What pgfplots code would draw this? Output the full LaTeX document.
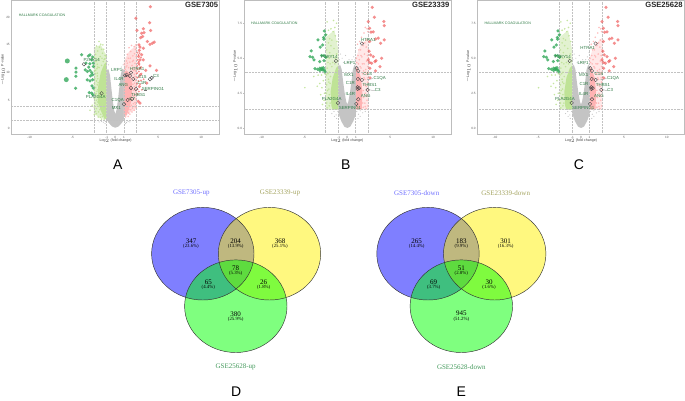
\documentclass[border=0pt]{standalone}
\usepackage{pgfplots}
\usepackage{pgfplotstable}
\pgfplotsset{compat=1.18}
\usepackage{fontspec}
\setmainfont{Liberation Sans}
\newfontfamily\vennfont{Liberation Serif}
\definecolor{framegray}{HTML}{BDBDBD}
\definecolor{dashgray}{HTML}{C2C2C2}
\definecolor{volgray}{HTML}{C4C4C4}
\definecolor{pinkp}{HTML}{FFB3B3}
\definecolor{lgreen}{HTML}{BFE396}
\definecolor{dgreen}{HTML}{33A85A}
\definecolor{redp}{HTML}{EE4B4B}
\definecolor{genegreen}{HTML}{2F7A45}
\definecolor{vblue}{HTML}{6E6EFF}
\definecolor{volive}{HTML}{A3A35F}
\definecolor{vgreen}{HTML}{449A5C}
\newcommand{\tinyf}{\fontsize{3.1}{3.4}\selectfont}
\newcommand{\genef}{\fontsize{4.4}{4.8}\selectfont}
% ---------- panel A ----------
\pgfplotstableread[row sep=\\]{x y\\
0 0.05\\ 0.4 0.3\\ 0.8 1.0\\ 1 1.6\\ 1 10.5\\ 0.8 10.7\\ 0.62 9.5\\ 0.48 7.5\\ 0.32 5.2\\ 0.15 3.3\\ 0 2.5\\ -0.15 3.3\\ -0.32 5.2\\ -0.48 7.5\\ -0.62 9.5\\ -0.8 10.6\\ -1 10.5\\ -1 1.6\\ -0.8 1.0\\ -0.4 0.3\\
}\grayA
\pgfplotstableread[row sep=\\]{x y\\
1 2.0\\ 1 10.0\\ 1.3 10.4\\ 1.7 9.8\\ 1.95 8.0\\ 1.9 5.0\\ 1.6 3.4\\ 1.3 2.4\\
}\pinkareaA
\pgfplotstableread[row sep=\\]{x y\\
-1 1.5\\ -1 12.0\\ -1.3 11.5\\ -1.7 10.0\\ -2.0 7.5\\ -2.0 4.5\\ -1.6 2.8\\ -1.3 1.8\\
}\greenareaA
\pgfplotstableread[row sep=\\]{x y\\
1 2\\ 1 12\\ 1.6 13.8\\ 2.5 15\\ 2.5 3.5\\ 1.6 2.7\\
}\pinkouterA
\pgfplotstableread[row sep=\\]{x y\\
-1 1.5\\ -1 13\\ -1.7 15\\ -2.5 14.5\\ -2.5 2.5\\ -1.6 1.8\\
}\greenouterA
\pgfplotstableread[row sep=\\]{x y\\
1.1 1.2\\ 1.3 1.0\\ 1.5 1.2\\ 1.7 1.1\\ -1.15 1.2\\ -1.4 1.05\\ -1.6 1.2\\ -1.9 1.1\\ 0.9 11.4\\ 0.7 11\\ -0.8 11.4\\ -0.9 12\\ 1.2 0.8\\ -1.2 0.8\\
}\grayptsA
\pgfplotstableread[row sep=\\]{x y\\
1.1 3.2\\ 1.2 5.1\\ 1.3 12.1\\ 1.4 13.3\\ 1.5 12.6\\ 1.6 14.5\\ 1.8 13.8\\ 1.9 14.9\\ 2.05 13.0\\ 2.2 14.7\\ 2.35 14.2\\ 2.1 12.2\\ 1.7 11.9\\ 1.35 11.2\\ 1.15 10.6\\ 1.55 10.9\\ 1.95 11.3\\ 2.3 11.7\\ 2.45 12.9\\ 2.4 10.8\\ 2.15 10.4\\ 1.85 10.2\\ 2.45 9.9\\ 2.3 9.3\\ 2.1 9.0\\ 2.4 8.6\\ 2.25 8.1\\ 2.45 7.7\\ 2.05 7.9\\ 1.95 8.5\\ 2.35 7.1\\ 2.15 6.8\\ 2.45 6.3\\ 2.3 5.9\\ 2.05 6.2\\ 1.95 6.9\\ 2.4 5.2\\ 2.2 5.4\\ 2.0 5.1\\ 1.85 5.7\\ 2.3 4.6\\ 2.1 4.4\\ 1.9 4.1\\ 1.75 3.9\\ 1.6 3.4\\ 1.45 2.9\\ 1.3 2.4\\ 1.2 2.0\\ 1.55 2.7\\ 1.8 3.3\\ 2.0 3.6\\ 2.25 3.9\\ 1.7 4.6\\ 1.4 11.7\\ 1.75 12.6\\ 2.0 12.0\\ 2.25 13.4\\ 2.4 15.0\\ 1.25 11.0\\ 1.05 11.5\\ 2.0 10.7\\ 2.35 10.3\\ 2.2 9.7\\ 2.5 9.1\\ 2.2 7.5\\ 2.4 6.7\\ 2.15 5.8\\ 2.35 4.3\\ 2.45 3.7\\ 2.2 3.2\\ 1.95 2.9\\ 1.7 2.5\\ 1.5 2.1\\
}\pinkA
\pgfplotstableread[row sep=\\]{x y\\
-1.1 2.0\\ -1.2 13.1\\ -1.35 14.2\\ -1.5 13.5\\ -1.7 15.1\\ -1.9 15.6\\ -1.85 14.6\\ -2.05 13.9\\ -2.2 14.8\\ -1.55 12.6\\ -1.3 12.4\\ -1.75 12.9\\ -2.0 12.4\\ -2.3 13.3\\ -2.45 12.7\\ -2.25 12.0\\ -2.1 11.5\\ -2.4 11.2\\ -2.15 10.7\\ -2.45 10.3\\ -2.3 9.8\\ -2.1 9.4\\ -2.4 8.9\\ -2.2 8.5\\ -2.45 8.0\\ -2.1 7.8\\ -2.3 7.3\\ -2.45 6.8\\ -2.15 6.6\\ -2.35 6.0\\ -2.1 5.6\\ -2.45 5.3\\ -2.2 5.0\\ -2.35 4.5\\ -2.1 4.2\\ -2.45 3.8\\ -2.2 3.5\\ -1.95 3.9\\ -1.8 3.3\\ -1.95 2.9\\ -2.2 2.6\\ -1.7 2.5\\ -1.5 2.1\\ -1.75 1.9\\ -2.0 2.0\\ -2.45 2.4\\ -2.95 3.2\\ -2.7 4.1\\ -1.3 1.6\\ -1.6 1.6\\ -1.9 10.9\\ -1.6 11.3\\ -1.4 12.0\\ -2.05 11.0\\ -2.3 10.4\\ -2.05 8.9\\ -2.25 6.2\\ -2.05 6.9\\ -2.0 5.2\\ -2.3 3.0\\ -1.2 12.5\\ -1.05 12.9\\ -1.45 15.0\\ -1.6 14.2\\ -2.1 9.9\\ -2.0 8.2\\ -2.05 4.7\\
}\greenA
\pgfplotstableread[row sep=\\]{x y\\
4.09 21.9\\ 4.0 19.0\\ 2.41 19.8\\ 2.53 17.6\\ 3.27 17.9\\ 4.12 17.6\\ 3.07 17.1\\ 3.35 17.2\\ 3.19 16.5\\ 2.96 16.3\\ 4.55 15.5\\ 4.32 15.3\\ 4.05 15.1\\ 3.74 15.6\\ 2.76 15.0\\ 2.88 14.6\\ 2.8 14.0\\ 3.27 14.4\\ 2.72 12.9\\ 3.07 13.2\\ 2.88 12.3\\ 2.72 11.7\\ 3.27 12.3\\ 4.05 11.2\\ 4.82 10.4\\ 3.54 10.4\\ 2.88 10.8\\ 2.92 9.6\\ 3.66 8.1\\ 2.8 7.5\\ 2.88 4.5\\ 2.68 4.8\\
}\redA
\pgfplotstableread[row sep=\\]{x y\\
2.6 13.6\\ 2.7 13.2\\ 2.85 13.5\\ 3.0 12.7\\ 2.6 12.3\\ 2.75 12.0\\ 2.55 11.2\\ 2.8 11.4\\ 3.0 11.0\\ 2.6 10.6\\ 2.75 10.2\\ 2.55 9.9\\ 2.8 9.3\\ 3.05 9.8\\ 2.6 9.1\\ 2.7 8.5\\ 3.0 8.6\\ 2.55 8.0\\ 2.9 7.9\\ 2.6 7.0\\ 2.75 6.6\\ 3.1 6.9\\ 2.6 6.1\\ 3.3 8.8\\
}\redsmallA
\pgfplotstableread[row sep=\\]{x y\\
-3.93 13.2\\ -2.96 13.2\\ -2.76 12.3\\ -3.42 11.7\\ -2.96 11.6\\ -3.5 10.5\\ -2.96 10.4\\ -2.76 10\\ -3.27 8.7\\ -2.96 8.5\\ -2.65 8.7\\ -2.72 7.6\\ -3.04 6.4\\ -2.76 6.3\\ -2.57 7.2\\ -2.65 9.6\\ -2.57 11.1\\ -3.15 13\\ -2.65 12.8\\ -2.57 11.7\\ -3.27 10.2\\ -2.62 6.0\\ -2.9 9.4\\ -3.1 11.0\\ -4.59 10.8\\ -4.59 10.1\\ -4.59 9.34\\ -4.63 7.17\\
}\dgreenA
\pgfplotstableread[row sep=\\]{x y\\
-5.6 12.1\\ -5.72 8.73\\
}\biggreenA
\pgfplotstableread[row sep=\\]{x y\\
-3.66 11.5\\ -1.6 6.27\\ 1.13 9.5\\ 1.32 9.6\\ 1.83 10\\ 1.71 9.4\\ 2.1 8.86\\ 1.83 7.23\\ 2.41 7.05\\ 4.05 8.8\\ 4.24 9.04\\ 1.44 5.06\\ 1.95 5.24\\ 1.01 4.28\\
}\openA
% ---------- panels B and C ----------
\pgfplotstableread[row sep=\\]{x y\\
0 0.02\\ 0.35 0.12\\ 0.7 0.5\\ 1 1\\ 1 4.4\\ 0.85 4.55\\ 0.65 4.2\\ 0.5 3.4\\ 0.3 2.5\\ 0.12 1.9\\ 0 1.7\\ -0.12 1.9\\ -0.3 2.5\\ -0.5 3.4\\ -0.65 4.2\\ -0.85 4.55\\ -1 4.4\\ -1 1\\ -0.7 0.5\\ -0.35 0.12\\
}\grayB
\pgfplotstableread[row sep=\\]{x y\\
1 1.33\\ 1 4.4\\ 1.25 4.2\\ 1.6 3.6\\ 1.75 2.6\\ 1.7 1.33\\
}\pinkareaB
\pgfplotstableread[row sep=\\]{x y\\
-1 1.33\\ -1 4.5\\ -1.3 4.3\\ -1.7 3.6\\ -1.95 2.6\\ -1.85 1.6\\ -1.7 1.33\\
}\greenareaB
\pgfplotstableread[row sep=\\]{x y\\
1 1.33\\ 1 5.0\\ 1.5 5.9\\ 2.5 6.5\\ 2.5 1.33\\
}\pinkouterB
\pgfplotstableread[row sep=\\]{x y\\
-1 1.33\\ -1 5.5\\ -1.5 7\\ -2.5 6.5\\ -2.5 1.33\\
}\greenouterB
\pgfplotstableread[row sep=\\]{x y\\
1.1 1.2\\ 1.3 1.0\\ 1.5 1.25\\ 1.8 1.1\\ 2.1 1.2\\ 1.25 0.7\\ 1.5 0.85\\ -1.1 1.2\\ -1.3 0.95\\ -1.55 1.2\\ -1.8 1.05\\ -1.25 0.7\\ -1.5 0.85\\ 0.9 4.9\\ 0.75 5.1\\ 0.55 4.9\\ 0.95 5.4\\ -0.6 5.0\\ -0.8 5.3\\ -0.95 4.9\\ 0.4 4.6\\ -0.45 4.7\\ 0.2 4.9\\ -0.2 5.2\\ 0.05 4.7\\
}\grayptsB
\pgfplotstableread[row sep=\\]{x y\\
1.1 4.7\\ 1.25 5.2\\ 1.4 4.9\\ 1.55 5.6\\ 1.7 5.1\\ 1.85 5.9\\ 2.0 5.3\\ 2.2 5.8\\ 2.35 5.2\\ 1.2 6.0\\ 1.45 6.2\\ 1.65 6.5\\ 1.95 6.8\\ 2.25 6.3\\ 2.4 6.9\\ 2.1 7.2\\ 1.8 6.1\\ 1.35 5.6\\ 1.95 4.6\\ 2.15 4.2\\ 2.4 4.4\\ 2.3 3.9\\ 2.05 3.5\\ 2.4 3.3\\ 2.2 3.0\\ 1.95 3.1\\ 2.45 2.7\\ 2.1 2.5\\ 1.9 2.2\\ 2.3 2.0\\ 2.05 1.8\\ 2.4 1.6\\ 1.85 1.5\\ 2.2 1.4\\ 1.8 3.9\\ 1.6 4.3\\ 1.75 4.6\\ 2.45 4.0\\ 2.5 5.0\\ 1.3 4.6\\ 1.5 4.4\\ 1.9 4.1\\ 2.25 4.8\\ 2.45 5.6\\ 1.05 5.0\\ 1.6 5.2\\ 2.05 6.1\\ 2.3 7.1\\ 1.85 2.7\\ 1.95 3.6\\ 2.25 2.3\\ 1.8 1.8\\ 2.1 1.55\\ 2.35 3.6\\ 2.1 4.0\\
}\pinkB
\pgfplotstableread[row sep=\\]{x y\\
-1.1 4.8\\ -1.25 5.3\\ -1.4 5.0\\ -1.55 5.7\\ -1.75 5.2\\ -1.9 5.9\\ -2.05 5.4\\ -2.2 6.1\\ -2.4 5.6\\ -1.2 6.2\\ -1.4 6.6\\ -1.65 6.9\\ -1.45 7.2\\ -1.25 7.5\\ -1.6 7.7\\ -1.9 7.1\\ -2.2 7.0\\ -2.35 7.6\\ -2.4 6.7\\ -2.05 6.4\\ -1.8 6.3\\ -2.45 5.1\\ -2.25 4.7\\ -2.0 4.6\\ -1.8 4.4\\ -2.35 4.3\\ -2.1 4.0\\ -2.45 3.8\\ -2.2 3.5\\ -2.0 3.2\\ -2.4 3.1\\ -2.15 2.8\\ -2.45 2.5\\ -2.25 2.2\\ -2.05 2.1\\ -2.4 1.8\\ -2.1 1.6\\ -2.35 1.45\\ -2.65 2.5\\ -2.95 2.9\\ -3.2 3.2\\ -3.5 3.0\\ -3.1 2.4\\ -4.95 2.9\\ -3.9 3.7\\ -3.4 3.8\\ -2.8 3.4\\ -2.65 3.9\\ -3.0 3.8\\ -2.7 2.0\\ -2.9 1.7\\ -1.7 4.7\\ -1.45 4.6\\ -2.1 5.0\\ -1.95 3.7\\ -2.15 3.3\\ -2.3 2.7\\ -2.1 2.4\\ -2.0 1.8\\ -2.25 3.9\\
}\greenB
\pgfplotstableread[row sep=\\]{x y\\
2.91 8.64\\ 3.15 7.93\\ 2.45 7.62\\ 4.27 7.62\\ 4.31 7.33\\ 2.6 7.14\\ 2.76 6.86\\ 3.03 6.88\\ 3.61 6.43\\ 4.31 6.31\\ 3.3 6.38\\ 3.88 6.07\\ 2.72 5.24\\ 3.03 5.12\\ 2.45 4.88\\ 3.22 4.76\\ 2.84 4.64\\ 3.34 4.83\\ 4.0 5.0\\ 2.64 4.29\\ 3.81 4.4\\ 3.3 4.1\\ 2.6 6.2\\ 2.55 5.5\\ 2.65 3.6\\ 2.6 4.7\\
}\redB
\pgfplotstableread[row sep=\\]{x y\\
-2.68 6.95\\ -2.53 6.67\\ -2.76 6.48\\ -3.42 6.31\\ -2.72 6.36\\ -2.87 5.95\\ -3.15 5.79\\ -4.2 5.52\\ -4.35 5.12\\ -4.04 5.07\\ -3.88 4.88\\ -2.99 5.19\\ -2.72 5.19\\ -2.49 5.07\\ -3.22 4.76\\ -2.72 4.83\\ -2.99 4.29\\ -2.8 4.33\\ -3.19 4.29\\ -3.77 4.26\\ -3.46 4.21\\ -2.87 4.17\\ -2.68 4.17\\ -3.19 4.12\\ -2.6 4.05\\ -3.0 4.2\\
}\dgreenB
\pgfplotstableread[row sep=\\]{x y\\
1.71 6.05\\ -1.32 4.81\\ 1.09 4.29\\ 1.28 4.1\\ 1.24 3.52\\ 1.71 3.45\\ 2.37 2.74\\ 1.2 2.93\\ 1.36 2.86\\ 1.2 2.81\\ 1.28 2.07\\ 1.05 1.74\\ -1.09 1.81\\
}\openB
\pgfplotsset{
  volcano/.style={
    scale only axis, width=#1, height=134pt,
    axis line style={draw=framegray,line width=.8pt},
    xtick={-10,-5,-1,0,1,5,10},
    tick style={draw=framegray,line width=.3pt},
    major tick length=1.2pt,
    xtick align=outside, ytick align=outside,
    xtick pos=bottom, ytick pos=left,
    tick label style={font=\tinyf,text=black!65,inner sep=0.6pt},
    /pgf/number format/assume math mode=true,
    clip=true, ymajorgrids=false, xmajorgrids=false,
  },
  aream/.style={draw=none,fill=#1},
  dashl/.style={color=dashgray,line width=.75pt,dash pattern=on 2.2pt off 1pt,forget plot},
  cloud/.style={only marks,mark=*,mark size=.9pt,mark options={solid,draw=#1,draw opacity=0,fill=#1,fill opacity=.9}},
  hot/.style={only marks,mark=*,mark size=#1,mark options={solid,draw=redp,draw opacity=0,fill=redp,fill opacity=.62}},
  cold/.style={only marks,mark=*,mark size=#1,mark options={solid,draw=dgreen,draw opacity=0,fill=dgreen,fill opacity=.8}},
  grayp/.style={only marks,mark=*,mark size=.6pt,mark options={solid,draw=volgray,draw opacity=0,fill=volgray}},
  openc/.style={only marks,mark=o,mark size=1.8pt,mark options={solid,draw=black!70,line width=.4pt}},
  venn/.style={only marks,mark=*,mark size=46.3pt,mark options={solid,xscale=1.106,draw=#1,draw opacity=0,fill=#1,fill opacity=.5}},
  vline/.style={only marks,mark=o,mark size=46.3pt,mark options={solid,xscale=1.106,draw=black!80,line width=.45pt}},
  canvas/.style={hide axis,scale only axis,at={(0pt,0pt)},anchor=south west,width=685pt,height=400pt,
    xmin=0,xmax=685,ymin=0,ymax=400,y dir=reverse,clip=false},
}
\begin{document}
\begin{tikzpicture}
\path[use as bounding box] (0,0) rectangle (685pt,400pt);
% ---------------- A
\begin{axis}[volcano=207.3pt,at={(11.7pt,266pt)},anchor=south west,
  xmin=-12.09,xmax=12.1,ymin=-1.08,ymax=23.1,ytick={0,5,10,15,20}]
\addplot[aream=volgray] table {\grayA} -- cycle;
\addplot[grayp] table {\grayptsA};
\addplot[aream=pinkp!45] table {\pinkouterA} -- cycle;
\addplot[aream=lgreen!50] table {\greenouterA} -- cycle;
\addplot[aream=pinkp] table {\pinkareaA} -- cycle;
\addplot[aream=lgreen] table {\greenareaA} -- cycle;
\addplot[cloud=pinkp] table {\pinkA};
\addplot[cloud=lgreen] table {\greenA};
\addplot[dashl] coordinates {(-2.5,-2)(-2.5,24)};
\addplot[dashl] coordinates {(-1,-2)(-1,24)};
\addplot[dashl] coordinates {(1,-2)(1,24)};
\addplot[dashl] coordinates {(2.5,-2)(2.5,24)};
\addplot[dashl] coordinates {(-13,3.97)(13,3.97)};
\addplot[dashl] coordinates {(-13,1.3)(13,1.3)};
\addplot[hot=1.05pt] table {\redsmallA};
\addplot[hot=1.75pt] table {\redA};
\addplot[cold=1.75pt] table {\dgreenA};
\addplot[cold=2.5pt] table {\biggreenA};
\addplot[openc] table {\openA};
\end{axis}
% ---------------- B
\begin{axis}[volcano=207pt,at={(244pt,266pt)},anchor=south west,
  xmin=-12.04,xmax=12.09,ymin=-0.41,ymax=9.16,ytick={0,2.5,5,7.5},
  yticklabels={0.0,2.5,5.0,7.5}]
\addplot[aream=volgray] table {\grayB} -- cycle;
\addplot[grayp] table {\grayptsB};
\addplot[aream=pinkp!30] table {\pinkouterB} -- cycle;
\addplot[aream=lgreen!45] table {\greenouterB} -- cycle;
\addplot[aream=pinkp] table {\pinkareaB} -- cycle;
\addplot[aream=lgreen] table {\greenareaB} -- cycle;
\addplot[cloud=pinkp] table {\pinkB};
\addplot[cloud=lgreen] table {\greenB};
\addplot[dashl] coordinates {(-2.5,-1)(-2.5,10)};
\addplot[dashl] coordinates {(-1,-1)(-1,10)};
\addplot[dashl] coordinates {(1,-1)(1,10)};
\addplot[dashl] coordinates {(2.5,-1)(2.5,10)};
\addplot[dashl] coordinates {(-13,4.02)(13,4.02)};
\addplot[dashl] coordinates {(-13,1.33)(13,1.33)};
\addplot[hot=1.75pt] table {\redB};
\addplot[cold=1.75pt] table {\dgreenB};
\addplot[openc] table {\openB};
\end{axis}
% ---------------- C
\begin{axis}[volcano=206.6pt,at={(477.7pt,266pt)},anchor=south west,
  xmin=-12.04,xmax=12.04,ymin=-0.41,ymax=9.16,ytick={0,2.5,5,7.5},
  yticklabels={0.0,2.5,5.0,7.5}]
\addplot[aream=volgray] table {\grayB} -- cycle;
\addplot[grayp] table {\grayptsB};
\addplot[aream=pinkp!30] table {\pinkouterB} -- cycle;
\addplot[aream=lgreen!45] table {\greenouterB} -- cycle;
\addplot[aream=pinkp] table {\pinkareaB} -- cycle;
\addplot[aream=lgreen] table {\greenareaB} -- cycle;
\addplot[cloud=pinkp] table {\pinkB};
\addplot[cloud=lgreen] table {\greenB};
\addplot[dashl] coordinates {(-2.5,-1)(-2.5,10)};
\addplot[dashl] coordinates {(-1,-1)(-1,10)};
\addplot[dashl] coordinates {(1,-1)(1,10)};
\addplot[dashl] coordinates {(2.5,-1)(2.5,10)};
\addplot[dashl] coordinates {(-13,4.02)(13,4.02)};
\addplot[dashl] coordinates {(-13,1.33)(13,1.33)};
\addplot[hot=1.75pt] table {\redB};
\addplot[cold=1.75pt] table {\dgreenB};
\addplot[openc] table {\openB};
\end{axis}
% ---------------- venn diagrams, in picture pixels
\begin{axis}[canvas]
\addplot[venn=blue] coordinates {(202.8,253.7)};
\addplot[venn=yellow] coordinates {(269.5,253.7)};
\addplot[venn=green] coordinates {(235.8,306.2)};
\addplot[vline] coordinates {(202.8,253.7)};
\addplot[vline] coordinates {(269.5,253.7)};
\addplot[vline] coordinates {(235.8,306.2)};
\addplot[venn=blue] coordinates {(428,253.7)};
\addplot[venn=yellow] coordinates {(494.7,253.7)};
\addplot[venn=green] coordinates {(461.3,306.2)};
\addplot[vline] coordinates {(428,253.7)};
\addplot[vline] coordinates {(494.7,253.7)};
\addplot[vline] coordinates {(461.3,306.2)};
\end{axis}
% ---------------- annotations, in picture pixels
\begin{axis}[canvas]
\addplot[black!55,line width=.25pt] coordinates {(152.5,78.5)(154.5,76)};
\addplot[black!55,line width=.25pt] coordinates {(144,90)(147,90)};
\addplot[black!55,line width=.25pt] coordinates {(367,79.5)(373,78.7)};
\addplot[black!55,line width=.25pt] coordinates {(369,90)(375,90.3)};
\addplot[black!55,line width=.25pt] coordinates {(600.5,79.5)(606.5,78.7)};
\addplot[black!55,line width=.25pt] coordinates {(603,90)(608,90.3)};
\begin{scope}[every node/.style={inner sep=0pt,font=\genef,text=genegreen}]
\node at (axis cs:91.7,60.3) {P2RY14};
\node at (axis cs:137,69) {HTRA1};
\node at (axis cs:116.7,70.3) {LRP1};
\node at (axis cs:142.3,77) {C1S};
\node at (axis cs:119,79.3) {IL4R};
\node at (axis cs:142,83.3) {C1R};
\node at (axis cs:123.3,85.3) {ANG};
\node at (axis cs:156,75.7) {C3};
\node at (axis cs:153,89.3) {SERPING1};
\node at (axis cs:138.3,95.3) {THBS1};
\node at (axis cs:95.7,97.3) {PLA2G4A};
\node at (axis cs:117.7,100) {C1QA};
\node at (axis cs:132.3,99) {C7};
\node at (axis cs:116.3,108.3) {MX1};
\node at (axis cs:368.3,39.7) {HTRA1};
\node at (axis cs:329.3,56.7) {P2RY14};
\node at (axis cs:349.7,63.3) {LRP1};
\node at (axis cs:367.7,74) {C1S};
\node at (axis cs:349,75.3) {MX1};
\node at (axis cs:379.7,78.7) {C1QA};
\node at (axis cs:350.3,83.3) {C1R};
\node at (axis cs:369.7,84.7) {THBS1};
\node at (axis cs:377.7,90.3) {C3};
\node at (axis cs:350.3,93.7) {IL4R};
\node at (axis cs:365.7,96.3) {ANG};
\node at (axis cs:331.7,98.7) {PLA2G4A};
\node at (axis cs:350,108.3) {SERPING1};
\node at (axis cs:587.7,48.3) {HTRA1};
\node at (axis cs:562.7,56.7) {P2RY14};
\node at (axis cs:583,63.3) {LRP1};
\node at (axis cs:599,74) {C1S};
\node at (axis cs:583.7,75.3) {MX1};
\node at (axis cs:613,78.7) {C1QA};
\node at (axis cs:584,83.7) {C1R};
\node at (axis cs:603,84.7) {THBS1};
\node at (axis cs:610.3,90.3) {C3};
\node at (axis cs:583.7,93.7) {IL4R};
\node at (axis cs:599,96.3) {ANG};
\node at (axis cs:565,98.7) {PLA2G4A};
\node at (axis cs:583.3,108.3) {SERPING1};
\end{scope}
\begin{scope}[every node/.style={inner sep=0pt,font=\fontsize{3.6}{4}\selectfont,text=genegreen}]
\node at (axis cs:42,15.3) {HALLMARK COAGULATION};
\node at (axis cs:274.3,23.7) {HALLMARK COAGULATION};
\node at (axis cs:507.7,23.7) {HALLMARK COAGULATION};
\end{scope}
\begin{scope}[every node/.style={inner sep=0pt,font=\fontsize{7.6}{8}\selectfont\bfseries,text=black!85}]
\node at (axis cs:201.7,5.3) {GSE7305};
\node at (axis cs:430.7,5.3) {GSE23339};
\node at (axis cs:664,5.3) {GSE25628};
\end{scope}
\begin{scope}[every node/.style={inner sep=0pt,font=\fontsize{3.6}{4}\selectfont,text=black!75}]
\node at (axis cs:115.7,140.7) {Log$_2$ (fold change)};
\node at (axis cs:347.3,140.7) {Log$_2$ (fold change)};
\node at (axis cs:581,140.7) {Log$_2$ (fold change)};
\node[rotate=90] at (axis cs:2.7,70) {$-$Log$_{10}$ P-value};
\node[rotate=90] at (axis cs:235,66.7) {$-$Log$_{10}$ P-value};
\node[rotate=90] at (axis cs:468.3,66.7) {$-$Log$_{10}$ P-value};
\end{scope}
\begin{scope}[every node/.style={inner sep=0pt,font=\fontsize{14}{15}\selectfont,text=black}]
\node at (axis cs:117.7,165) {A};
\node at (axis cs:345.7,165) {B};
\node at (axis cs:579,165) {C};
\node at (axis cs:236.3,392) {D};
\node at (axis cs:461.3,392) {E};
\end{scope}
\begin{scope}[every node/.style={inner sep=0pt,font=\vennfont\fontsize{7}{8}\selectfont}]
\node[text=vblue] at (axis cs:191.3,193) {GSE7305-up};
\node[text=volive] at (axis cs:280,193) {GSE23339-up};
\node[text=vgreen] at (axis cs:235.7,367.3) {GSE25628-up};
\node[text=vblue] at (axis cs:416.7,193) {GSE7305-down};
\node[text=volive] at (axis cs:505.7,193) {GSE23339-down};
\node[text=vgreen] at (axis cs:461.3,367.3) {GSE25628-down};
\node at (axis cs:191,241.3) {347};
\node at (axis cs:235.7,241.3) {204};
\node at (axis cs:280,241.3) {368};
\node at (axis cs:235.7,268.3) {78};
\node at (axis cs:208.3,282.3) {65};
\node at (axis cs:263.7,282.3) {26};
\node at (axis cs:235.7,313.7) {380};
\node at (axis cs:416.7,241.3) {265};
\node at (axis cs:461.3,241.3) {183};
\node at (axis cs:505.7,241.3) {301};
\node at (axis cs:461.3,268.3) {51};
\node at (axis cs:433.7,282.3) {69};
\node at (axis cs:489,282.3) {30};
\node at (axis cs:461.3,313.7) {945};
\end{scope}
\begin{scope}[every node/.style={inner sep=0pt,font=\vennfont\fontsize{4.8}{5}\selectfont}]
\node at (axis cs:191,246.6) {(23.6\%)};
\node at (axis cs:235.7,246.6) {(13.9\%)};
\node at (axis cs:280,246.6) {(25.1\%)};
\node at (axis cs:235.7,273.6) {(5.3\%)};
\node at (axis cs:208.3,287.6) {(4.4\%)};
\node at (axis cs:263.7,287.6) {(1.8\%)};
\node at (axis cs:235.7,319) {(25.9\%)};
\node at (axis cs:416.7,246.6) {(14.4\%)};
\node at (axis cs:461.3,246.6) {(9.9\%)};
\node at (axis cs:505.7,246.6) {(16.3\%)};
\node at (axis cs:461.3,273.6) {(2.8\%)};
\node at (axis cs:433.7,287.6) {(3.7\%)};
\node at (axis cs:489,287.6) {(1.6\%)};
\node at (axis cs:461.3,319) {(51.2\%)};
\end{scope}
\end{axis}
\end{tikzpicture}
\end{document}
